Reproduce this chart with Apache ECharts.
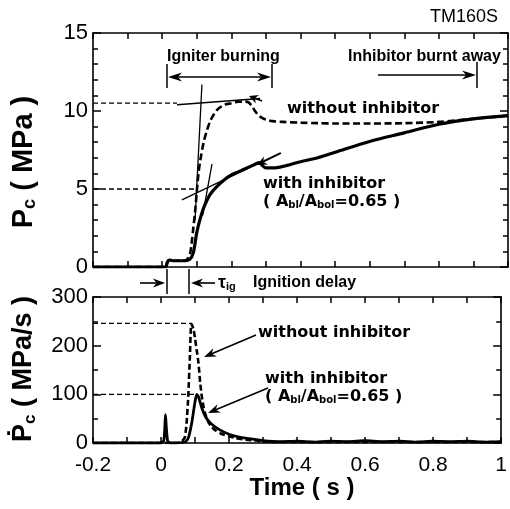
<!DOCTYPE html>
<html><head><meta charset="utf-8">
<script src="https://cdn.jsdelivr.net/npm/echarts@6/dist/echarts.min.js"></script>
<style>html,body{margin:0;padding:0;background:#fff}#c{width:510px;height:509px}</style>
</head><body><div id="c"></div>
<script>
// ---- data (time in s) ----
const xTicks = [-0.2, 0, 0.2, 0.4, 0.6, 0.8, 1];
const pTicks = [0, 5, 10, 15];
const dpTicks = [0, 100, 200, 300];

// chamber pressure, without inhibitor (MPa)
const pWithoutT = [-0.2,0.0,0.01,0.015,0.02,0.03,0.06,0.07,0.08,0.085,0.09,0.095,0.1,0.105,0.11,0.12,0.13,0.14,0.15,0.16,0.18,0.2,0.22,0.24,0.25,0.26,0.27,0.28,0.29,0.3,0.32,0.35,0.4,0.45,0.5,0.6,0.7,0.8,0.85,0.9,0.95,1.0];
const pWithoutV = [0,0,0,0.3,0.45,0.4,0.4,0.45,0.8,1.5,2.5,3.5,4.8,6.0,6.8,8.0,8.8,9.4,9.8,10.1,10.4,10.5,10.6,10.6,10.55,10.3,9.95,9.7,9.55,9.45,9.35,9.3,9.25,9.22,9.2,9.2,9.22,9.3,9.4,9.5,9.6,9.7];
// chamber pressure, with inhibitor (MPa)
const pWithT = [-0.2,0.0,0.01,0.015,0.02,0.03,0.06,0.08,0.09,0.1,0.11,0.12,0.13,0.14,0.16,0.18,0.2,0.22,0.25,0.27,0.28,0.29,0.3,0.32,0.35,0.4,0.45,0.5,0.6,0.7,0.8,0.9,1.0];
const pWithV = [0,0,0,0.3,0.45,0.4,0.4,0.5,0.9,2.2,3.1,3.8,4.3,4.7,5.2,5.6,5.9,6.1,6.4,6.6,6.7,6.5,6.35,6.35,6.45,6.75,7.0,7.35,8.05,8.6,9.15,9.5,9.7];

// pressure rise rate, without inhibitor (MPa/s)
const dWithoutT = [-0.2,0.0,0.05,0.06,0.07,0.075,0.08,0.085,0.089,0.095,0.1,0.105,0.11,0.115,0.12,0.125,0.13,0.14,0.15,0.16,0.18,0.2,0.22,0.25,0.28,0.3,0.35,0.4,0.5,0.6,0.7,0.8,0.9,1.0];
const dWithoutV = [0,0,0,2,12,40,95,180,245,235,215,190,165,125,95,75,60,42,32,26,18,14,10,7,5,3,2,2,2,2,2,2,2,2];
// pressure rise rate, with inhibitor (MPa/s)
const dWithT = [-0.2,0.0,0.008,0.011,0.013,0.016,0.02,0.03,0.07,0.08,0.09,0.1,0.105,0.11,0.12,0.13,0.14,0.15,0.17,0.2,0.23,0.26,0.3,0.35,0.4,0.45,0.5,0.55,0.6,0.65,0.7,0.75,0.8,0.85,0.9,0.95,1.0];
const dWithV = [0,0,5,30,58,28,3,0,2,10,40,85,100,95,72,55,45,38,28,18,12,9,5,3,4,2,4,3,5,3,4,2,4,3,4,2,3];

// reference / tangent lines [t, value]
const refHiP = [[-0.2,10.5],[0.043,10.5]];
const refLoP = [[-0.2,5.0],[0.1,5.0]];
const refHiD = [[-0.2,246],[0.087,246]];
const refLoD = [[-0.2,100],[0.1,100]];
const tanA = [[0.095,3.0],[0.115,11.7]];
const tanB = [[0.043,10.4],[0.283,10.8]];
const tanC = [[0.117,3.3],[0.144,6.6]];
const tanD = [[0.057,4.3],[0.341,7.3]];

const zip = (t,v)=>t.map((x,i)=>[x,v[i]]);

const chart = echarts.init(document.getElementById('c'), null, {renderer:'canvas'});
const F = 'Liberation Sans, Arial, Helvetica, sans-serif';
const FW = 'DejaVu Sans, Liberation Sans, sans-serif';
const axLine = {show:true, onZero:false, lineStyle:{color:'#000', width:1.6}};

function xAx(grid, pos, interval, labels, minor){
  return {type:'value', gridIndex:grid, position:pos, min:-0.2, max:1, interval:interval,
    axisLine:axLine, splitLine:{show:false},
    axisTick:{show:true, inside:true, length:6, lineStyle:{color:'#000', width:1.5}},
    minorTick:{show:minor, splitNumber:2, length:6, lineStyle:{color:'#000', width:1.5}},
    axisLabel:{show:labels, color:'#000', fontFamily:F, fontSize:21, margin:12,
      formatter:v=>{const r=Math.round(v*10)/10; return xTicks.includes(r)? String(r):'';}}};
}
function yAx(grid, pos, max, interval, minorSplit, labels, ticks){
  return {type:'value', gridIndex:grid, position:pos, min:0, max:max, interval:interval,
    axisLine:axLine, splitLine:{show:false},
    axisTick:{show:true, inside:true, length:8, lineStyle:{color:'#000', width:1.5}},
    minorTick:{show:true, splitNumber:minorSplit, length:5, lineStyle:{color:'#000', width:1.5}},
    axisLabel:{show:labels, color:'#000', fontFamily:F, fontSize:22, margin:5,
      formatter:v=>ticks.includes(v)?String(v):''}};
}

function line(name, data, xi, yi, width, type){
  return {name, type:'line', xAxisIndex:xi, yAxisIndex:yi, data, showSymbol:false, symbol:'none',
    smooth:0.3, lineStyle:{color:'#000', width, type}, z:3, animation:false};
}
function seg(data, xi, yi, width, type){
  return {type:'line', xAxisIndex:xi, yAxisIndex:yi, data, showSymbol:false, symbol:'none',
    lineStyle:{color:'#000', width, type}, z:2, animation:false};
}

// annotations (pixel layout)
function arrow(x1,y1,x2,y2,head){
  head = head||14;
  const a = Math.atan2(y2-y1,x2-x1), w=4.5;
  const bx = x2 - head*Math.cos(a), by = y2 - head*Math.sin(a);
  const nx = -Math.sin(a)*w, ny = Math.cos(a)*w;
  const mx = x2 - head*0.7*Math.cos(a), my = y2 - head*0.7*Math.sin(a);
  return [
    {type:'line', shape:{x1,y1,x2:mx,y2:my}, style:{stroke:'#000', lineWidth:1.6}},
    {type:'polygon', shape:{points:[[x2,y2],[bx+nx,by+ny],[mx,my],[bx-nx,by-ny]]}, style:{fill:'#000'}}
  ];
}
function vbar(x,y1,y2){ return {type:'line', shape:{x1:x,y1,x2:x,y2}, style:{stroke:'#000', lineWidth:1.5}}; }
function txt(x,y,text,size,weight,align,font){
  return {type:'text', x, y, style:{text, fill:'#000', fontFamily:font||F, fontSize:size, fontWeight:weight||'bold', align:align||'left', verticalAlign:'middle'}};
}
function richTxt(x,y,text,size,extra,align,font){
  const f = font||F;
  return Object.assign({type:'text', x, y, style:{text, fill:'#000', fontFamily:f, fontSize:size, fontWeight:'bold', align:align||'left', verticalAlign:'middle',
    rich:{s:{fontSize:Math.round(size*0.62), fontWeight:'bold', fontFamily:f, verticalAlign:'bottom', padding:[Math.round(size*0.45),0,0,0]}}}}, extra||{});
}

const graphics = [].concat(
  [txt(498,17,'TM160S',18,'normal','right')],
  [txt(167,57,'Igniter burning',16)],
  arrow(220,77,168,77), arrow(220,77,271,77), [vbar(167,64,88), vbar(272,64,88)],
  [txt(348,57,'Inhibitor burnt away',16)],
  arrow(378,75,476,75), [vbar(477,62,88)],
  [txt(287,109,'without inhibitor',16,'bold','left',FW)],
  arrow(262,101,249,96,9),
  [txt(263,184,'with inhibitor',16,'bold','left',FW)],
  [richTxt(263,202,'( A{s|bl}/A{s|bol}=0.65 )',16,null,'left',FW)],
  arrow(281,153,257,165,10),
  arrow(140,283,165,283,12), [vbar(167,269,294), vbar(189,269,294)], arrow(215,283,191,283,12),
  [richTxt(218,283,'τ{s|ig}',18)],
  [txt(253,283,'Ignition delay',16)],
  [txt(258,333,'without inhibitor',16,'bold','left',FW)],
  arrow(256,335,204,357,12),
  [txt(265,379,'with inhibitor',16,'bold','left',FW)],
  [richTxt(265,397,'( A{s|bl}/A{s|bol}=0.65 )',16,null,'left',FW)],
  arrow(268,388,208,413,12),
  [richTxt(24,162,'P{s|c} ( MPa )',29,{rotation:Math.PI/2},'center')],
  [richTxt(24,369,'Ṗ{s|c} ( MPa/s )',27,{rotation:Math.PI/2},'center')],
  [txt(302,488,'Time ( s )',24,'bold','center')]
);

chart.setOption({
  animation:false,
  backgroundColor:'#fff',
  grid:[{left:93, top:33, width:415, height:234}, {left:93, top:297, width:415, height:146}],
  xAxis:[xAx(0,'bottom',0.1,false,false), xAx(0,'top',0.1,false,false), xAx(1,'bottom',0.2,true,true), xAx(1,'top',0.1,false,false)],
  yAxis:[yAx(0,'left',15,5,5,true,pTicks), yAx(0,'right',15,5,5,false,pTicks), yAx(1,'left',300,100,2,true,dpTicks), yAx(1,'right',300,100,2,false,dpTicks)],
  series:[
    line('without inhibitor', zip(pWithoutT,pWithoutV), 0,0, 2.6, [7,3.5]),
    line('with inhibitor', zip(pWithT,pWithV), 0,0, 3.2, 'solid'),
    seg(refHiP,0,0,1.3,[5,3]), seg(refLoP,0,0,1.3,[5,3]),
    seg(tanA,0,0,1.3,'solid'), seg(tanB,0,0,1.3,'solid'), seg(tanC,0,0,1.3,'solid'), seg(tanD,0,0,1.3,'solid'),
    Object.assign(line('without inhibitor rate', zip(dWithoutT,dWithoutV), 2,2, 2.6, [6,3]), {smooth:0.2}),
    Object.assign(line('with inhibitor rate', zip(dWithT,dWithV), 2,2, 2.8, 'solid'), {smooth:0.2}),
    seg(refHiD,2,2,1.3,[5,3]), seg(refLoD,2,2,1.3,[5,3])
  ],
  graphic:graphics
});
</script></body></html>
